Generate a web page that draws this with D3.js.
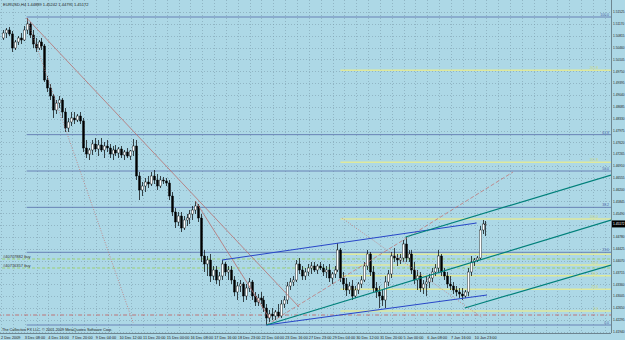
<!DOCTYPE html>
<html>
<head>
<meta charset="utf-8">
<script src="https://cdnjs.cloudflare.com/ajax/libs/d3/7.8.5/d3.min.js"></script>
<style>
html, body { margin: 0; padding: 0; background: #add8e6; }
svg { display: block; font-family: "Liberation Sans", Arial, sans-serif; }
</style>
</head>
<body>
<div id="chart"></div>
<script>
"use strict";

const SIZE = { cx: 625, cy: 340, right: 611, bottom: 333 };

const titleText = 'EURUSD,H4  1.44889 1.45242 1.44795 1.45172';
const copyright = 'The Collective FX LLC. \u00a9 2001-2009 MetaQuotes Software Corp.';

// H4 bars, open = previous close
const firstOpen = 1.5075;
const closes = [
	1.5090, 1.5099, 1.5087, 1.5045, 1.5063, 1.5075, 1.5069, 1.5099,
	1.5117, 1.5084, 1.5057, 1.5045, 1.5063, 1.5051, 1.4949, 1.4925,
	1.4901, 1.4859, 1.4880, 1.4889, 1.4853, 1.4805, 1.4823, 1.4835,
	1.4829, 1.4841, 1.4826, 1.4745, 1.4727, 1.4739, 1.4757, 1.4742,
	1.4754, 1.4739, 1.4751, 1.4745, 1.4727, 1.4739, 1.4730, 1.4742,
	1.4724, 1.4733, 1.4721, 1.4736, 1.4751, 1.4661, 1.4619, 1.4631,
	1.4643, 1.4637, 1.4661, 1.4649, 1.4631, 1.4649, 1.4646, 1.4640,
	1.4601, 1.4553, 1.4523, 1.4541, 1.4505, 1.4529, 1.4535, 1.4547,
	1.4559, 1.4571, 1.4535, 1.4421, 1.4397, 1.4409, 1.4361, 1.4379,
	1.4349, 1.4361, 1.4397, 1.4373, 1.4379, 1.4349, 1.4313, 1.4331,
	1.4337, 1.4301, 1.4325, 1.4343, 1.4301, 1.4283, 1.4295, 1.4289,
	1.4265, 1.4235, 1.4247, 1.4241, 1.4253, 1.4241, 1.4277, 1.4289,
	1.4331, 1.4343, 1.4349, 1.4397, 1.4379, 1.4361, 1.4373, 1.4385,
	1.4391, 1.4379, 1.4391, 1.4385, 1.4373, 1.4379, 1.4355, 1.4367,
	1.4379, 1.4439, 1.4355, 1.4337, 1.4319, 1.4331, 1.4301, 1.4319,
	1.4337, 1.4349, 1.4391, 1.4427, 1.4373, 1.4325, 1.4313, 1.4301,
	1.4289, 1.4343, 1.4367, 1.4421, 1.4415, 1.4409, 1.4415, 1.4457,
	1.4415, 1.4427, 1.4379, 1.4349, 1.4361, 1.4325, 1.4337, 1.4343,
	1.4355, 1.4373, 1.4385, 1.4421, 1.4373, 1.4361, 1.4337, 1.4331,
	1.4319, 1.4313, 1.4307, 1.4301, 1.4313, 1.4373, 1.4403, 1.4409,
	1.4415, 1.4499, 1.4517, 1.4517
];
const highs = [
	1.5099, 1.5105, 1.5108, 1.5096, 1.5069, 1.5081, 1.5090, 1.5111,
	1.5135, 1.5123, 1.5099, 1.5075, 1.5069, 1.5075, 1.5057, 1.4961,
	1.4937, 1.4907, 1.4889, 1.4901, 1.4895, 1.4865, 1.4835, 1.4853,
	1.4853, 1.4847, 1.4853, 1.4835, 1.4769, 1.4745, 1.4769, 1.4775,
	1.4769, 1.4775, 1.4763, 1.4769, 1.4757, 1.4751, 1.4754, 1.4748,
	1.4751, 1.4739, 1.4745, 1.4739, 1.4772, 1.4769, 1.4673, 1.4643,
	1.4655, 1.4661, 1.4673, 1.4679, 1.4667, 1.4661, 1.4658, 1.4655,
	1.4649, 1.4613, 1.4565, 1.4553, 1.4553, 1.4541, 1.4547, 1.4559,
	1.4571, 1.4586, 1.4577, 1.4547, 1.4439, 1.4421, 1.4427, 1.4391,
	1.4391, 1.4373, 1.4409, 1.4403, 1.4391, 1.4391, 1.4361, 1.4343,
	1.4349, 1.4343, 1.4337, 1.4355, 1.4349, 1.4313, 1.4307, 1.4313,
	1.4301, 1.4277, 1.4259, 1.4265, 1.4259, 1.4277, 1.4289, 1.4301,
	1.4343, 1.4355, 1.4361, 1.4409, 1.4415, 1.4391, 1.4385, 1.4397,
	1.4403, 1.4403, 1.4397, 1.4403, 1.4397, 1.4391, 1.4397, 1.4373,
	1.4391, 1.4460, 1.4445, 1.4373, 1.4355, 1.4343, 1.4349, 1.4331,
	1.4343, 1.4361, 1.4403, 1.4439, 1.4433, 1.4391, 1.4343, 1.4331,
	1.4319, 1.4361, 1.4379, 1.4433, 1.4445, 1.4427, 1.4427, 1.4469,
	1.4478, 1.4439, 1.4439, 1.4403, 1.4379, 1.4373, 1.4349, 1.4361,
	1.4367, 1.4385, 1.4397, 1.4439, 1.4427, 1.4385, 1.4373, 1.4361,
	1.4343, 1.4331, 1.4325, 1.4325, 1.4319, 1.4385, 1.4421, 1.4415,
	1.4421, 1.4511, 1.4529, 1.4526
];
const lows = [
	1.5069, 1.5075, 1.5081, 1.5033, 1.5039, 1.5054, 1.5057, 1.5066,
	1.5087, 1.5075, 1.5045, 1.5033, 1.5039, 1.5039, 1.4943, 1.4913,
	1.4889, 1.4835, 1.4847, 1.4865, 1.4835, 1.4793, 1.4793, 1.4811,
	1.4817, 1.4823, 1.4817, 1.4733, 1.4715, 1.4709, 1.4724, 1.4733,
	1.4721, 1.4733, 1.4715, 1.4733, 1.4715, 1.4709, 1.4721, 1.4715,
	1.4715, 1.4709, 1.4715, 1.4709, 1.4721, 1.4649, 1.4589, 1.4601,
	1.4613, 1.4625, 1.4631, 1.4637, 1.4619, 1.4625, 1.4637, 1.4631,
	1.4589, 1.4541, 1.4505, 1.4511, 1.4493, 1.4499, 1.4511, 1.4517,
	1.4529, 1.4547, 1.4523, 1.4403, 1.4373, 1.4361, 1.4343, 1.4349,
	1.4337, 1.4331, 1.4349, 1.4361, 1.4349, 1.4337, 1.4301, 1.4289,
	1.4313, 1.4283, 1.4289, 1.4313, 1.4289, 1.4271, 1.4271, 1.4277,
	1.4253, 1.4214, 1.4223, 1.4229, 1.4229, 1.4235, 1.4235, 1.4265,
	1.4277, 1.4319, 1.4331, 1.4343, 1.4367, 1.4349, 1.4349, 1.4361,
	1.4367, 1.4373, 1.4367, 1.4379, 1.4361, 1.4355, 1.4343, 1.4337,
	1.4355, 1.4373, 1.4343, 1.4319, 1.4301, 1.4307, 1.4289, 1.4295,
	1.4307, 1.4325, 1.4343, 1.4379, 1.4361, 1.4313, 1.4295, 1.4265,
	1.4271, 1.4265, 1.4331, 1.4355, 1.4403, 1.4391, 1.4397, 1.4403,
	1.4403, 1.4403, 1.4367, 1.4337, 1.4319, 1.4313, 1.4307, 1.4301,
	1.4325, 1.4343, 1.4361, 1.4373, 1.4361, 1.4349, 1.4325, 1.4319,
	1.4307, 1.4301, 1.4295, 1.4289, 1.4295, 1.4301, 1.4361, 1.4391,
	1.4403, 1.4409, 1.4487, 1.4481
];

// one label every 8 bars
const timeLabels = [
	'2 Dec 2009', '3 Dec 08:00', '4 Dec 16:00', '7 Dec 20:00', '9 Dec 04:00',
	'10 Dec 12:00', '11 Dec 20:00', '15 Dec 00:00', '16 Dec 08:00', '17 Dec 16:00',
	'18 Dec 23:00', '22 Dec 04:00', '23 Dec 16:00', '27 Dec 23:00', '29 Dec 04:00',
	'30 Dec 12:00', '31 Dec 20:00', '5 Jan 00:00', '6 Jan 08:00', '7 Jan 16:00',
	'10 Jan 23:00'
];
const priceTicks = [
	1.51525, 1.51170, 1.50815, 1.50460, 1.50105, 1.49750, 1.49395, 1.49040,
	1.48685, 1.48330, 1.47975, 1.47620, 1.47265, 1.46910, 1.46555, 1.46200,
	1.45845, 1.45490, 1.45135, 1.44780, 1.44425, 1.44070, 1.43715, 1.43360,
	1.43005, 1.42650, 1.42295, 1.41940
];
const lastPrice = 1.45172;

// fibo objects
const fiboBlue = { hi: 1.5138, lo: 1.4214, from: 8 };
const fiboBlueLevels = [0, 23.6, 38.2, 50, 61.8, 100];
const fiboYellow = { hi: 1.4532, lo: 1.4256, from: 114 };
const fiboYellowLevels = [0, 23.6, 38.2, 50, 61.8, 100, 161.8, 261.8];

// trend lines: [bar, price] pairs
const redLines = [[[8, 1.5135], [100, 1.4268]], [[65, 1.4586], [90, 1.4235]]];
const redDotLines = [[[8, 1.5135], [44, 1.4220]], [[114.5, 1.4535], [162, 1.4235]]];
const redDashLines = [[[89, 1.4214], [172.3, 1.4673]]];
const blueLines = [[[74, 1.4409], [160, 1.4520]], [[89, 1.4214], [163.5, 1.4304]]];
const tealLines = [[[136, 1.4478], [205.4, 1.4664]], [[89, 1.4214], [205.4, 1.4529]], [[156, 1.4265], [205.4, 1.4394]]];

const orders = [{ ticket: '#40707882 buy', price: 1.4412 }, { ticket: '#40716357 buy', price: 1.4385 }];
const stopPrice = 1.4244;

const BAR_RIGHT = 205.4;

let x = d3.scaleLinear().domain([0, BAR_RIGHT]).range([3, SIZE.right]);
let y = d3.scaleLinear().domain([1.4193, 1.5189]).range([332, 0]);

const fmt5 = d3.format('.5f');
const fmt1 = d3.format('.1f');

let candles = closes.map((c, i) => ({ i, o: i ? closes[i - 1] : firstOpen, h: highs[i], l: lows[i], c }));

let svg = d3.select('#chart')
	.append('svg')
	.attr('width', SIZE.cx)
	.attr('height', SIZE.cy);

svg.append('rect')
	.attr('width', SIZE.cx)
	.attr('height', SIZE.cy)
	.attr('fill', '#add8e6');

svg.append('defs')
	.append('clipPath').attr('id', 'plot')
	.append('rect').attr('width', SIZE.right).attr('height', SIZE.bottom);

// grid
let grid = svg.append('g')
	.attr('stroke', '#7c9dad')
	.attr('stroke-width', 0.6)
	.attr('stroke-dasharray', '1,2');

grid.selectAll('.hg')
	.data(priceTicks)
	.enter().append('line')
	.attr('x1', 0).attr('x2', SIZE.right)
	.attr('y1', d => Math.round(y(d)) + 0.5).attr('y2', d => Math.round(y(d)) + 0.5);

grid.selectAll('.vg')
	.data(d3.range(0, BAR_RIGHT, 4))
	.enter().append('line')
	.attr('x1', d => Math.round(x(d)) - 1.5).attr('x2', d => Math.round(x(d)) - 1.5)
	.attr('y1', 0).attr('y2', SIZE.bottom);

let plot = svg.append('g').attr('clip-path', 'url(#plot)');

// horizontal levels
const hline = (g, price, from, color, width, dash) => g.append('line')
	.attr('x1', x(from)).attr('x2', SIZE.right)
	.attr('y1', y(price)).attr('y2', y(price))
	.attr('stroke', color).attr('stroke-width', width)
	.attr('stroke-dasharray', dash || null);

fiboYellowLevels.forEach(lv => {
	const p = fiboYellow.lo + (fiboYellow.hi - fiboYellow.lo) * lv / 100;
	hline(plot, p, fiboYellow.from, '#dfe99c', 1.5);
	plot.append('text')
		.attr('x', 598).attr('y', y(p) - 1)
		.attr('text-anchor', 'end')
		.attr('font-size', 3.3).attr('fill', '#d2dc78')
		.text(fmt1(lv));
});

orders.forEach(o => {
	hline(plot, o.price, -2, '#98cf68', 0.9, '3,2');
	svg.append('text')
		.attr('x', 3).attr('y', y(o.price) - 1)
		.attr('font-size', 4).attr('fill', '#333')
		.text(o.ticket);
});

hline(plot, stopPrice, -2, '#c05a5a', 0.8, '4,2,1,2');

fiboBlueLevels.forEach(lv => {
	const p = fiboBlue.lo + (fiboBlue.hi - fiboBlue.lo) * lv / 100;
	hline(plot, p, fiboBlue.from, '#6078b0', 0.9);
	plot.append('text')
		.attr('x', 609).attr('y', y(p) - 1)
		.attr('text-anchor', 'end')
		.attr('font-size', 3.5).attr('fill', '#4a64a8')
		.text(fmt1(lv));
});

// candles
let bars = plot.selectAll('.bar')
	.data(candles)
	.enter().append('g');

bars.append('line')
	.attr('x1', d => Math.round(x(d.i)) + 0.5).attr('x2', d => Math.round(x(d.i)) + 0.5)
	.attr('y1', d => y(d.h)).attr('y2', d => y(d.l))
	.attr('stroke', '#000').attr('stroke-width', 0.7);

bars.append('rect')
	.attr('x', d => Math.round(x(d.i)) - 0.5)
	.attr('y', d => y(Math.max(d.o, d.c)))
	.attr('width', 2)
	.attr('height', d => Math.max(0.8, Math.abs(y(d.o) - y(d.c))))
	.attr('fill', d => d.c >= d.o ? '#fff' : '#000')
	.attr('stroke', '#000').attr('stroke-width', 0.4);

// trend lines
const line = d3.line().x(d => x(d[0])).y(d => y(d[1]));
const drawLines = (data, color, width, dash) => plot.selectAll(null)
	.data(data)
	.enter().append('path')
	.attr('d', line)
	.attr('fill', 'none')
	.attr('stroke', color).attr('stroke-width', width)
	.attr('stroke-dasharray', dash || null);

drawLines(redLines, '#b87070', 0.8);
drawLines(redDotLines, '#c07878', 0.8, '1,1.5');
drawLines(redDashLines, '#c07878', 0.8, '4,2');
drawLines(blueLines, '#2846c8', 1);
drawLines(tealLines, '#00807a', 1.2);

// frame and axes
svg.append('line')
	.attr('x1', SIZE.right + 0.5).attr('x2', SIZE.right + 0.5)
	.attr('y1', 0).attr('y2', SIZE.bottom)
	.attr('stroke', '#6d8590');
svg.append('line')
	.attr('x1', 0).attr('x2', SIZE.right)
	.attr('y1', SIZE.bottom + 0.5).attr('y2', SIZE.bottom + 0.5)
	.attr('stroke', '#6d8590');

svg.append('g')
	.selectAll('text')
	.data(priceTicks)
	.enter().append('text')
	.attr('x', 613).attr('y', d => y(d) + 1.2)
	.attr('font-size', 3.2).attr('fill', '#222')
	.text(d => fmt5(d));

svg.append('g')
	.selectAll('text')
	.data(timeLabels)
	.enter().append('text')
	.attr('x', (d, i) => x(i * 8) - 2).attr('y', 339)
	.attr('font-size', 3.8).attr('fill', '#222')
	.text(d => d);

// current price box
svg.append('rect')
	.attr('x', SIZE.right + 1).attr('y', y(lastPrice) - 3.5)
	.attr('width', 13).attr('height', 7)
	.attr('fill', '#000');
svg.append('text')
	.attr('x', 613).attr('y', y(lastPrice) + 1.2)
	.attr('font-size', 3.2).attr('fill', '#fff')
	.text(fmt5(lastPrice));

svg.append('text')
	.attr('x', 3).attr('y', 6)
	.attr('font-size', 4).attr('fill', '#222')
	.text(titleText);

svg.append('text')
	.attr('x', 2).attr('y', 331)
	.attr('font-size', 3.8).attr('fill', '#222')
	.text(copyright);
</script>
</body>
</html>
